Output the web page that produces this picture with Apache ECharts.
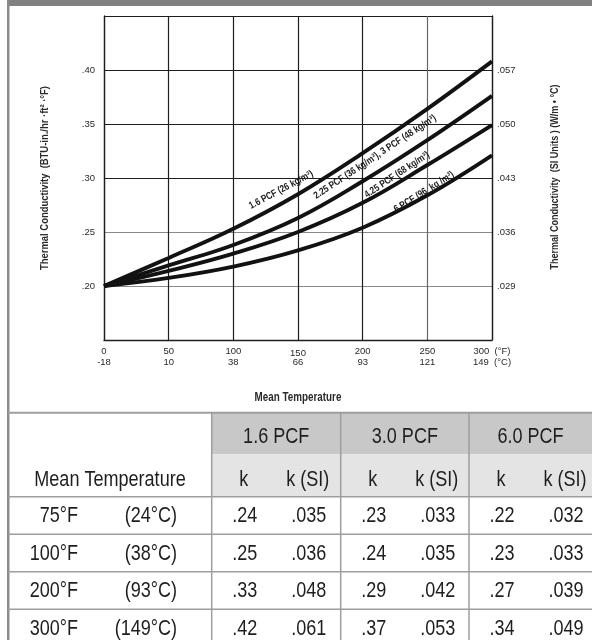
<!DOCTYPE html>
<html><head><meta charset="utf-8">
<script src="https://cdn.jsdelivr.net/npm/echarts@6/dist/echarts.min.js"></script>
<style>html,body{margin:0;padding:0;background:#fff}#c{width:592px;height:640px}</style>
</head><body><div id="c"></div>
<script>
// ---- chart data ----
const tempsF = [0, 50, 100, 150, 200, 250, 300];
const tempsC = ['-18', '10', '38', '66', '93', '121', '149'];
const pcf16  = [0.200, 0.226, 0.253, 0.285, 0.323, 0.364, 0.408];
const pcf3   = [0.200, 0.219, 0.238, 0.263, 0.297, 0.335, 0.376];
const pcf425 = [0.200, 0.214, 0.230, 0.250, 0.277, 0.312, 0.349];
const pcf6   = [0.200, 0.2075, 0.218, 0.233, 0.254, 0.284, 0.321];
const yTickVals = [0.20, 0.25, 0.30, 0.35, 0.40];
const yTickLabels = ['.20', '.25', '.30', '.35', '.40'];
const siTickLabels = ['.029', '.036', '.043', '.050', '.057'];
const curveNames = ['1.6 PCF (26 kg/m³)', '2.25 PCF (36 kg/m³), 3 PCF (48 kg/m³)', '4.25 PCF (68 kg/m³)', '6 PCF (96  kg /m³)'];

// ---- table data ----
const tblDensities = ['1.6 PCF', '3.0 PCF', '6.0 PCF'];
const tblTempF = ['75°F', '100°F', '200°F', '300°F'];
const tblTempC = ['(24°C)', '(38°C)', '(93°C)', '(149°C)'];
const tblK16  = ['.24', '.25', '.33', '.42'];
const tblSI16 = ['.035', '.036', '.048', '.061'];
const tblK30  = ['.23', '.24', '.29', '.37'];
const tblSI30 = ['.033', '.035', '.042', '.053'];
const tblK60  = ['.22', '.23', '.27', '.34'];
const tblSI60 = ['.032', '.033', '.039', '.049'];

function fontOK(name){
  const ctx = document.createElement('canvas').getContext('2d');
  const s = 'Mean Temperature 0123';
  ctx.font = '20px monospace'; const a = ctx.measureText(s).width;
  ctx.font = "20px '" + name + "', monospace"; const b = ctx.measureText(s).width;
  return Math.abs(a - b) > 0.5;
}
const NARROW = fontOK('Liberation Sans Narrow');
const FF = NARROW ? "'Liberation Sans Narrow', 'Liberation Sans', Arial, sans-serif" : "'Liberation Sans', Arial, sans-serif";
const SX = NARROW ? 1 : 0.82;
const AX = NARROW ? 11 : 9.5;

const chart = echarts.init(document.getElementById('c'), null, {renderer: 'canvas'});

function yLab(v){
  const i = yTickVals.findIndex(t => Math.abs(t - v) < 1e-6);
  return i < 0 ? '' : yTickLabels[i];
}
function siLab(v){
  const i = yTickVals.findIndex(t => Math.abs(t - v) < 1e-6);
  return i < 0 ? '' : siTickLabels[i];
}
function xLab(v){
  const i = tempsF.indexOf(Math.round(v));
  if (i < 0) return '';
  if (i === tempsF.length - 1) return '{n|' + tempsF[i] + '  (°F)}\n{n|' + tempsC[i] + '  (°C)}';
  if (tempsF[i] === 150) return '{lo|' + tempsF[i] + '}\n{n|' + tempsC[i] + '}';
  return '{n|' + tempsF[i] + '}\n{n|' + tempsC[i] + '}';
}

const dark = '#1e1e1e';
const mkSeries = (name, arr) => ({
  name, type: 'line', data: tempsF.map((t, i) => [t, arr[i]]),
  symbol: 'none', smooth: 0.4, lineStyle: {color: '#121212', width: 3.9}, silent: true, z: 5
});

const option = {
  animation: false,
  grid: {left: 104, right: 100, top: 16, bottom: 300, containLabel: false},
  xAxis: {
    type: 'value', min: 0, max: 300, interval: 50,
    axisLine: {show: true, lineStyle: {color: dark, width: 1.3}},
    axisTick: {show: false},
    splitLine: {show: true, lineStyle: {color: [dark, dark, dark, dark, dark, '#666', dark], width: 1.2}},
    axisLabel: {
      margin: 6, formatter: xLab, color: '#2a2a2a', showMinLabel: true, showMaxLabel: true,
      rich: {
        n: {fontFamily: FF, fontSize: AX, lineHeight: 11, color: '#2a2a2a'},
        lo: {fontFamily: FF, fontSize: AX, lineHeight: 11, color: '#2a2a2a', padding: [4, 0, 0, 0]}
      }
    }
  },
  yAxis: [
    {
      type: 'value', min: 0.15, max: 0.45, interval: 0.05, position: 'left',
      axisLine: {show: true, lineStyle: {color: dark, width: 1.3}},
      axisTick: {show: false},
      splitLine: {show: true, lineStyle: {color: [dark, '#8a8a8a', '#8a8a8a', dark, dark, dark, dark], width: 1.2}},
      axisLabel: {margin: 9, formatter: yLab, fontFamily: FF, fontSize: AX, color: '#2a2a2a', showMinLabel: false, showMaxLabel: false}
    },
    {
      type: 'value', min: 0.15, max: 0.45, interval: 0.05, position: 'right',
      axisLine: {show: true, lineStyle: {color: dark, width: 1.3}},
      axisTick: {show: false}, splitLine: {show: false},
      axisLabel: {margin: 5, formatter: siLab, fontFamily: FF, fontSize: AX, color: '#2a2a2a', showMinLabel: false, showMaxLabel: false}
    }
  ],
  series: [
    mkSeries(curveNames[0], pcf16),
    mkSeries(curveNames[1], pcf3),
    mkSeries(curveNames[2], pcf425),
    mkSeries(curveNames[3], pcf6)
  ]
};
chart.setOption(option);

// ---- overlay: frame, axis names, curve labels, table ----
const G = [];
const line = (x1, y1, x2, y2, c, w) => G.push({type: 'line', silent: true, z: 10, shape: {x1, y1, x2, y2}, style: {stroke: c, lineWidth: w}});
const rect = (x, y, w, h, f) => G.push({type: 'rect', silent: true, z: 1, shape: {x, y, width: w, height: h}, style: {fill: f}});
const txt = (s, x, y, o) => {
  o = o || {};
  G.push({type: 'text', silent: true, z: 20, x, y, rotation: o.rot || 0, scaleX: o.sx || 1,
    style: {text: s, fontFamily: FF, fontSize: o.size || 12, fontWeight: o.bold ? 'bold' : 'normal',
      fill: o.color || '#1e1e1e', align: o.align || 'center', verticalAlign: 'middle'}});
};

// frame
rect(7, 0, 585, 6, '#808080');
rect(7, 0, 2.5, 640, '#8c8c8c');

// axis titles
txt('Thermal Conductivity  (BTU-in./hr ·ft² ·°F)', 45, 178, {rot: Math.PI / 2, bold: true, size: NARROW ? 12.8 : 11.5, sx: SX, color: '#2a2a2a'});
txt('Thermal Conductivity  (SI Units ) (W/m • °C)', 555, 177, {rot: Math.PI / 2, bold: true, size: NARROW ? 12.2 : 11, sx: SX, color: '#2a2a2a'});
txt('Mean Temperature', 298, 398, {bold: true, size: NARROW ? 13 : 12, sx: SX, color: '#2a2a2a'});

// curve labels (anchored in data coordinates)
const curveLabelPos = [
  {i: 0, at: [137, 0.289], deg: 28},
  {i: 1, at: [209.5, 0.3195], deg: 33.5},
  {i: 2, at: [226.5, 0.303], deg: 33.5},
  {i: 3, at: [247.4, 0.287], deg: 32}
];
curveLabelPos.forEach(l => {
  const p = chart.convertToPixel({gridIndex: 0}, l.at);
  txt(curveNames[l.i], p[0], p[1], {rot: l.deg * Math.PI / 180, bold: true, size: NARROW ? 11 : 10, sx: SX, color: '#1a1a1a'});
});

// table
const tTop = 412.7, h1 = 454.3, hB = 496.7, rowH = 37.5;
const cols = [211.7, 340.7, 469];
const rightX = 592;
rect(cols[0], tTop, rightX - cols[0], h1 - tTop, '#c8c8c8');
rect(cols[0], h1, rightX - cols[0], hB - h1, '#e4e4e4');
const lineC = '#9e9e9e';
line(8, tTop, rightX, tTop, lineC, 2);
line(8, hB, rightX, hB, lineC, 1.5);
for (let r = 1; r < 4; r++) line(8, hB + r * rowH, rightX, hB + r * rowH, lineC, 1.5);
cols.forEach(x => line(x, tTop, x, 640, lineC, 1.5));

const TS = NARROW ? 23.2 : 22;
tblDensities.forEach((d, j) => {
  const cx = (cols[j] + (cols[j + 1] || rightX)) / 2;
  txt(d, cx, 436.5, {size: TS, sx: SX});
  txt('k', cols[j] + 32, 479.5, {size: TS, sx: SX});
  txt('k (SI)', cols[j] + 96, 479.5, {size: TS, sx: SX});
});
txt('Mean Temperature', 110, 479.5, {size: TS, sx: SX});
const kCols = [tblK16, tblSI16, tblK30, tblSI30, tblK60, tblSI60];
tblTempF.forEach((t, r) => {
  const cy = hB + r * rowH + rowH / 2 + 0.5;
  txt(t, 78, cy, {size: TS, sx: SX, align: 'right'});
  txt(tblTempC[r], 177, cy, {size: TS, sx: SX, align: 'right'});
  kCols.forEach((arr, k) => {
    const j = Math.floor(k / 2);
    txt(arr[r], cols[j] + (k % 2 === 0 ? 33 : 97), cy, {size: TS, sx: SX});
  });
});

chart.setOption({graphic: {elements: G}});
</script>
</body></html>
